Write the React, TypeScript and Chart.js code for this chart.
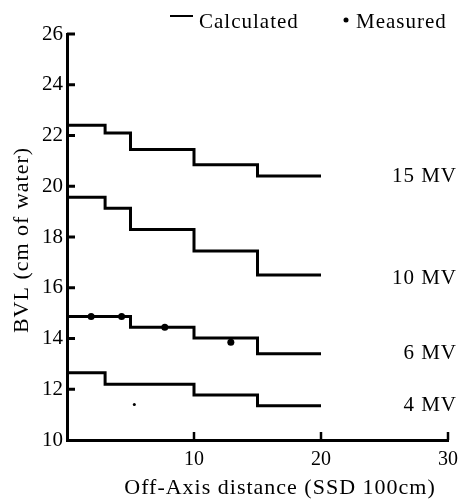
import React, { useEffect, useRef } from "react";
import { Chart, registerables } from "chart.js";

Chart.register(...registerables);

const FONT = '"Liberation Serif", "Times New Roman", serif';

// Calculated BVL step curves (value holds from its x until the next x)
const offAxis15 = [0, 3, 5, 10, 15, 20];
const bvl15 = [22.4, 22.1, 21.45, 20.85, 20.4, 20.4];

const offAxis10 = [0, 3, 5, 10, 15, 20];
const bvl10 = [19.57, 19.13, 18.3, 17.45, 16.5, 16.5];

const offAxis6 = [0, 5, 10, 15, 20];
const bvl6 = [14.87, 14.44, 14.02, 13.4, 13.4];

const offAxis4 = [0, 3, 10, 15, 20];
const bvl4 = [12.65, 12.2, 11.77, 11.35, 11.35];

// Measured points
const measuredX = [1.9, 4.3, 7.7, 12.9];
const measuredY = [14.87, 14.87, 14.44, 13.85];
const measured4X = [5.3];
const measured4Y = [11.4];

const energyLabels = ["15 MV", "10 MV", "6 MV", "4 MV"];
const yTickValues = [10, 12, 14, 16, 18, 20, 22, 24, 26];
const xTickValues = [0, 10, 20, 30];

const toXY = (xs: number[], ys: number[]) => xs.map((x, i) => ({ x, y: ys[i] }));

export default function App() {
  const ref = useRef<HTMLCanvasElement>(null);

  useEffect(() => {
    const stepDs = (label: string, xs: number[], ys: number[]) => ({
      label,
      data: toXY(xs, ys),
      stepped: "before" as const,
      borderColor: "#000",
      borderWidth: 3,
      pointRadius: 0,
      fill: false,
      borderCapStyle: "butt" as const,
      borderJoinStyle: "miter" as const,
    });

    const series = [
      { name: energyLabels[0], ys: bvl15, dy: 0 },
      { name: energyLabels[1], ys: bvl10, dy: -3 },
      { name: energyLabels[2], ys: bvl6, dy: 0 },
      { name: energyLabels[3], ys: bvl4, dy: 0 },
    ];

    const textPlugin = {
      id: "texts",
      afterDraw(chart: any) {
        const ctx = chart.ctx as CanvasRenderingContext2D;
        const xs = chart.scales.x;
        const ys = chart.scales.y;
        const area = chart.chartArea;
        ctx.save();
        ctx.strokeStyle = "#000";
        ctx.fillStyle = "#000";
        // inward tick marks
        ctx.lineWidth = 3;
        yTickValues.forEach((v) => {
          if (v === 10) return;
          const py = ys.getPixelForValue(v);
          ctx.beginPath();
          ctx.moveTo(area.left, py);
          ctx.lineTo(area.left + 8, py);
          ctx.stroke();
        });
        ctx.lineWidth = 2.5;
        xTickValues.forEach((v) => {
          if (v === 0) return;
          const px = xs.getPixelForValue(v);
          ctx.beginPath();
          ctx.moveTo(px, area.bottom);
          ctx.lineTo(px, area.bottom - 8);
          ctx.stroke();
        });

        (ctx as any).letterSpacing = "1px";
        // energy labels
        ctx.font = `21px ${FONT}`;
        ctx.textAlign = "right";
        ctx.textBaseline = "middle";
        const lx = xs.getPixelForValue(30) + 9;
        series.forEach((s) => {
          const py = ys.getPixelForValue(s.ys[s.ys.length - 1]) - s.dy;
          ctx.fillText(s.name, lx, py);
        });

        // legend
        ctx.lineWidth = 2;
        ctx.beginPath();
        ctx.moveTo(170, 16);
        ctx.lineTo(193, 16);
        ctx.stroke();
        ctx.textAlign = "left";
        ctx.textBaseline = "alphabetic";
        ctx.fillText("Calculated", 199, 28);
        ctx.beginPath();
        ctx.arc(346, 20, 2.5, 0, Math.PI * 2);
        ctx.fill();
        ctx.fillText("Measured", 356, 28);

        // axis titles
        ctx.font = `22px ${FONT}`;
        ctx.textAlign = "center";
        ctx.textBaseline = "middle";
        ctx.fillText("Off-Axis distance (SSD 100cm)", 280, 488);
        ctx.translate(22, 240);
        ctx.rotate(-Math.PI / 2);
        ctx.fillText("BVL (cm of water)", 0, 0);
        ctx.restore();
      },
    };

    const chart = new Chart(ref.current as HTMLCanvasElement, {
      type: "line",
      data: {
        datasets: [
          stepDs(energyLabels[0], offAxis15, bvl15),
          stepDs(energyLabels[1], offAxis10, bvl10),
          stepDs(energyLabels[2], offAxis6, bvl6),
          stepDs(energyLabels[3], offAxis4, bvl4),
          {
            label: "Measured",
            data: toXY(measuredX, measuredY),
            showLine: false,
            pointRadius: 3.5,
            pointBackgroundColor: "#000",
            pointBorderWidth: 0,
            borderColor: "#000",
          } as any,
          {
            label: "Measured 4 MV",
            data: toXY(measured4X, measured4Y),
            showLine: false,
            pointRadius: 1.5,
            pointBackgroundColor: "#000",
            pointBorderWidth: 0,
            borderColor: "#000",
          } as any,
        ],
      },
      options: {
        animation: false,
        responsive: false,
        layout: { padding: { left: 0, right: 13, top: 34, bottom: 0 } },
        plugins: { legend: { display: false }, tooltip: { enabled: false } },
        scales: {
          x: {
            type: "linear",
            min: 0,
            max: 30,
            grid: { display: false, drawTicks: false },
            border: { display: true, color: "#000", width: 3 },
            ticks: {
              stepSize: 10,
              padding: 8,
              color: "#000",
              maxRotation: 0,
              font: { family: FONT, size: 20 },
              callback: (v: any) => (v === 0 ? "" : String(v)),
            },
            afterFit: (s: any) => {
              s.height = 64;
            },
          },
          y: {
            type: "linear",
            min: 10,
            max: 26,
            grid: { display: false, drawTicks: false },
            border: { display: true, color: "#000", width: 3 },
            ticks: {
              stepSize: 2,
              padding: 4,
              color: "#000",
              font: { family: FONT, size: 21 },
            },
            afterFit: (s: any) => {
              s.width = 67;
            },
          },
        },
      },
      plugins: [textPlugin],
    });
    return () => chart.destroy();
  }, []);

  return (
    <div style={{ position: "absolute", left: 0, top: 0, width: 466, height: 504, background: "#fff" }}>
      <canvas ref={ref} width={466} height={504} style={{ width: 466, height: 504 }} />
    </div>
  );
}
